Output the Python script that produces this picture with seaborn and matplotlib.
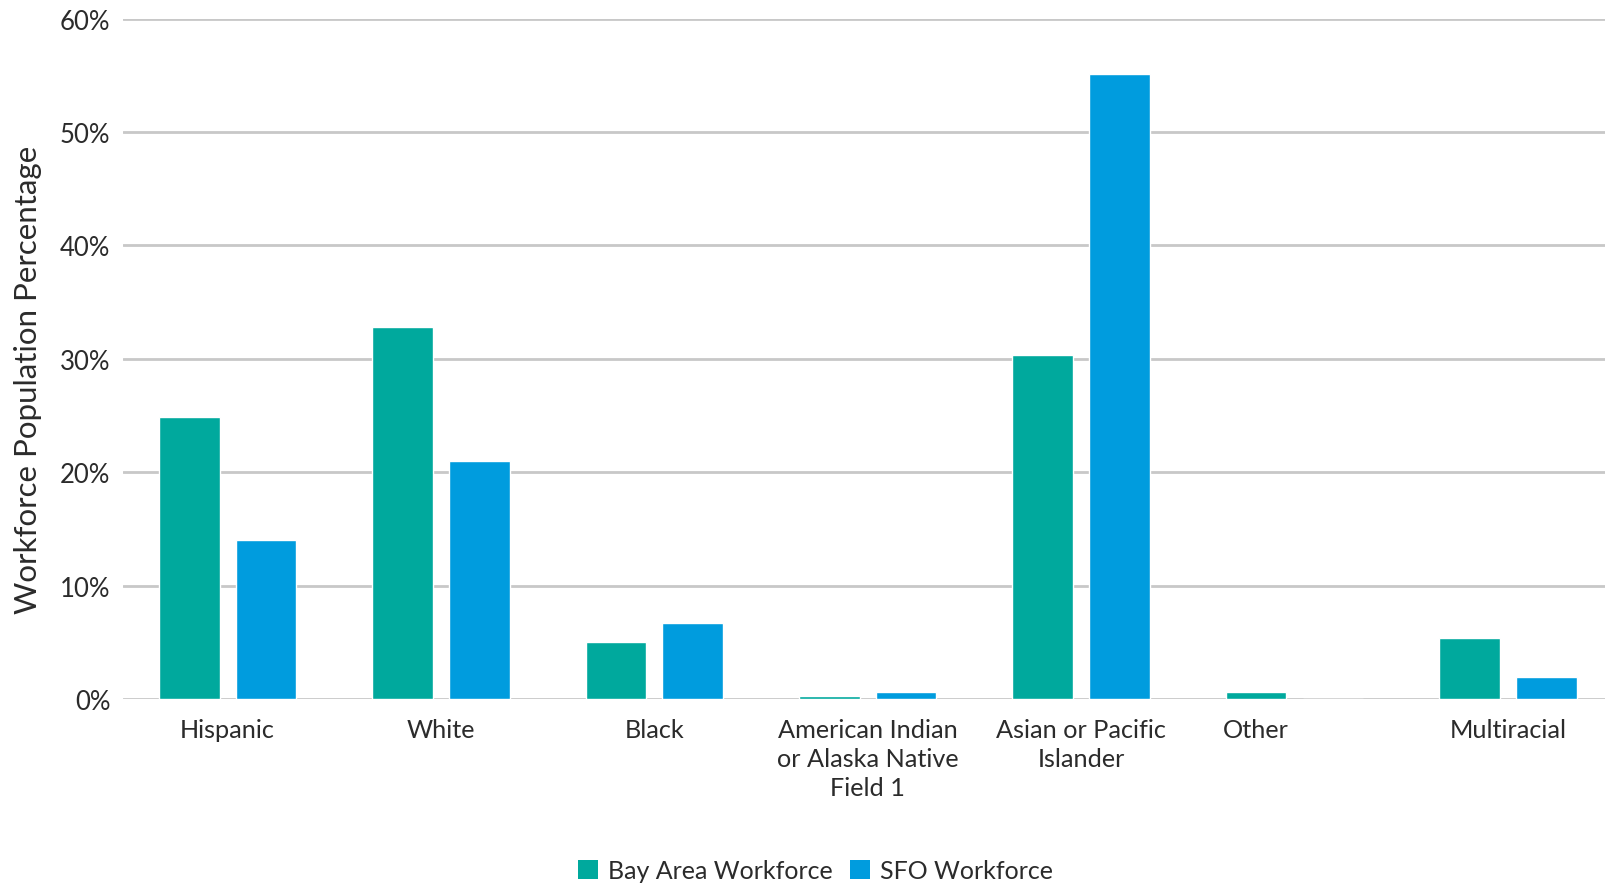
import numpy as np
import pandas as pd
import matplotlib
matplotlib.use("Agg")
import matplotlib.pyplot as plt
import seaborn as sns
from matplotlib.ticker import FuncFormatter
from matplotlib.patches import Patch

categories = ["Hispanic", "White", "Black", "American Indian\nor Alaska Native\nField 1",
              "Asian or Pacific\nIslander", "Other", "Multiracial"]
bay_area = [24.9, 32.8, 5.0, 0.3, 30.3, 0.6, 5.4]
sfo = [14.0, 21.0, 6.7, 0.6, 55.1, 0.0, 1.9]
series_names = ["Bay Area Workforce", "SFO Workforce"]
colors = ["#00A99D", "#009CDE"]
y_ticks = [0, 10, 20, 30, 40, 50, 60]

df = pd.DataFrame({
    "Category": categories * 2,
    "Percent": bay_area + sfo,
    "Group": [series_names[0]] * len(categories) + [series_names[1]] * len(categories),
})

sns.set_theme(style="white")
plt.rcParams["font.family"] = ["Lato", "DejaVu Sans"]
text_color = "#2b2b2b"

fig = plt.figure(figsize=(16.06, 8.87), dpi=100)
ax = fig.add_axes([0.0766, 0.2108, 0.9234, 0.767])

sns.barplot(data=df, x="Category", y="Percent", hue="Group", order=categories,
            hue_order=series_names, palette=colors, width=0.72, gap=0.21,
            saturation=1, ax=ax, legend=False, zorder=3)

ax.set_ylim(0, 60)
ax.set_xlim(-0.49, 6.46)
ax.set_yticks(y_ticks)
ax.yaxis.set_major_formatter(FuncFormatter(lambda v, p: f"{int(v)}%"))
ax.grid(axis="y", color="#c8c8c8", linewidth=2, zorder=0)
ax.grid(axis="x", visible=False)
for s in ax.spines.values():
    s.set_visible(False)

tick_pos = [i - (0.18 if c == "Other" else 0) for i, c in enumerate(categories)]
ax.set_xticks(tick_pos)
ax.set_xticklabels(categories, fontsize=18.2, color=text_color, linespacing=1.3)
ax.tick_params(axis="x", length=0, pad=14)
ax.tick_params(axis="y", length=0, pad=9, labelsize=18.5, labelcolor=text_color)
ax.set_xlabel("")
ax.set_ylabel("Workforce Population Percentage", fontsize=22.5, color=text_color)
ax.yaxis.set_label_coords(-0.0546, 0.47)

handles = [Patch(facecolor=c, edgecolor="none") for c in colors]
fig.legend(handles, series_names, loc="center", bbox_to_anchor=(0.508, 0.017),
           ncol=2, frameon=False, fontsize=18, handlelength=0.8, handleheight=0.8,
           handletextpad=0.4, columnspacing=0.7, labelcolor=text_color)

fig.savefig("out.png", dpi=100)
